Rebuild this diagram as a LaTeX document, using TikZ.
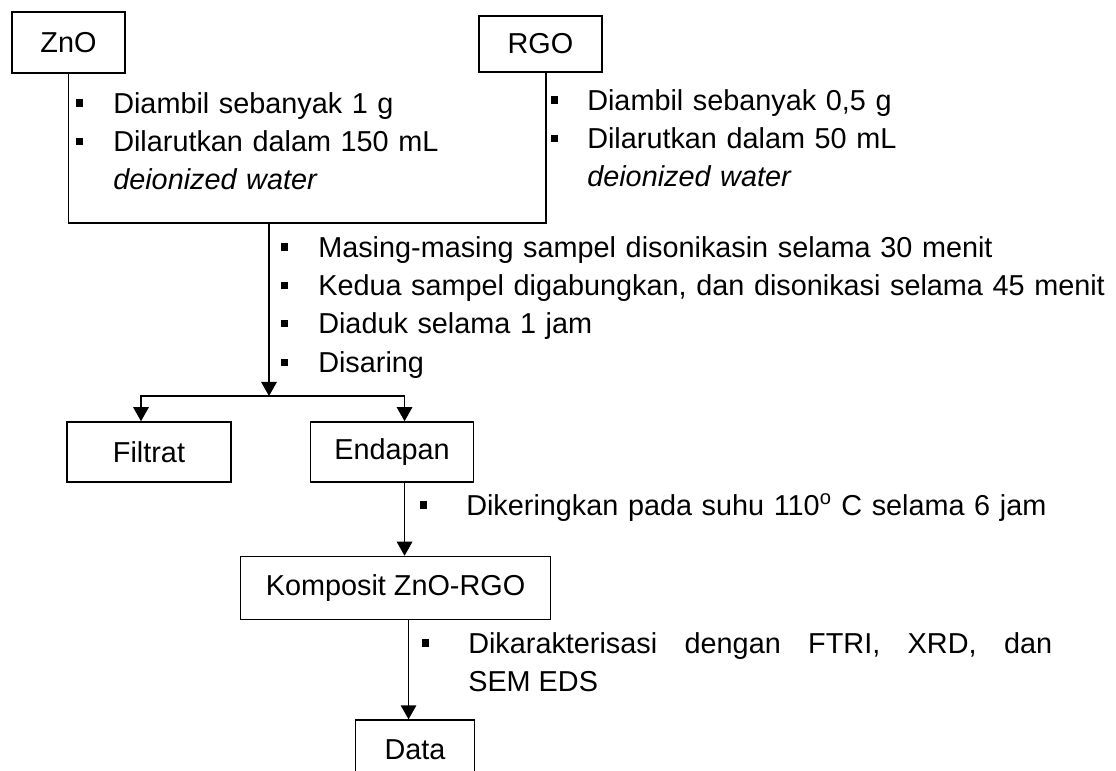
\documentclass[tikz,border=0pt]{standalone}
\usepackage{fontspec}
\setmainfont{Liberation Sans}
\usepackage{tikz}
\usetikzlibrary{arrows.meta,positioning,calc}
\tikzstyle{line} = [draw, line width=1.1pt, -{Triangle[width=11pt,length=10pt]}]
\tikzstyle{link} = [draw, line width=1.1pt]
\tikzstyle{ket} = [anchor=base west, inner sep=0pt, align=left, text width=20cm]
\newcommand{\bul}[1]{\makebox[#1][l]{\raisebox{0.16cm}{\rule{0.18cm}{0.18cm}}}}

\begin{document}
\begin{tikzpicture}[font=\fontsize{20.5}{27.3}\selectfont]
\tikzset{block/.style={rectangle, draw, line width=1.1pt, inner sep=0pt}}
\useasboundingbox (0,0) rectangle (27.9,-19.275);

% bahan awal
\node [block, minimum width=2.825cm, minimum height=1.525cm] (zno) at (1.7125,-1.0625) {ZnO};
\node [block, minimum width=3.075cm, minimum height=1.4cm] (rgo) at (13.5125,-1.1) {RGO};

\node [ket] (kzno) at (1.8875,-2.825) {\bul{0.9375cm}Diambil sebanyak 1 g\\
  \bul{0.9375cm}Dilarutkan dalam 150 mL\\
  \hspace*{0.9375cm}\textit{deionized water}};
\node [ket] (krgo) at (13.7625,-2.75) {\bul{0.9125cm}Diambil sebanyak 0,5 g\\
  \bul{0.9125cm}Dilarutkan dalam 50 mL\\
  \hspace*{0.9125cm}\textit{deionized water}};

\coordinate (jn) at (6.725,-5.575);
\coordinate (br) at (6.725,-9.9);
\path [link] (zno.south) |- (jn) -| ([xshift=0.14cm]rgo.south);
\path [line] (jn) -- (br);

\node [ket, text width=21cm] (kcampur) at (7.0125,-6.425) {\bul{0.9375cm}Masing-masing sampel disonikasin selama 30 menit\\
  \bul{0.9375cm}Kedua sampel digabungkan, dan disonikasi selama 45 menit\\
  \bul{0.9375cm}Diaduk selama 1 jam\\
  \bul{0.9375cm}Disaring};

% hasil saring
\node [block, minimum width=4.1cm, minimum height=1.5cm] (fi) at (3.725,-11.3) {Filtrat};
\node [block, right=1.95cm of fi, minimum width=4.075cm, minimum height=1.5cm] (en) {Endapan};
\path [line] (br) -| ([xshift=-0.2cm]fi.north);
\path [line] (br) -| ([xshift=0.3125cm]en.north);

\node [block, below=1.825cm of en, xshift=0.0875cm, minimum width=7.75cm, minimum height=1.575cm] (ko) {Komposit ZnO-RGO};
\path [line] ([xshift=0.3125cm]en.south) -- ([xshift=0.3125cm]en.south |- ko.north);
\node [ket] (kering) at (10.4875,-12.875) {\bul{1.1625cm}Dikeringkan pada suhu 110\textsuperscript{o} C selama 6 jam};

\node [block, below=2.475cm of ko, xshift=0.4875cm, minimum width=2.975cm, minimum height=1.5cm] (da) {Data};
\path [line] ([xshift=0.325cm]ko.south) -- ([xshift=0.325cm]ko.south |- da.north);
\node [ket, align=justify, text width=15.76cm] (karak) at (10.5375,-16.325) {\bul{1.1625cm}Dikarakterisasi dengan FTRI, XRD, dan\linebreak
  \hspace*{1.1625cm}SEM EDS};
\end{tikzpicture}
\end{document}
